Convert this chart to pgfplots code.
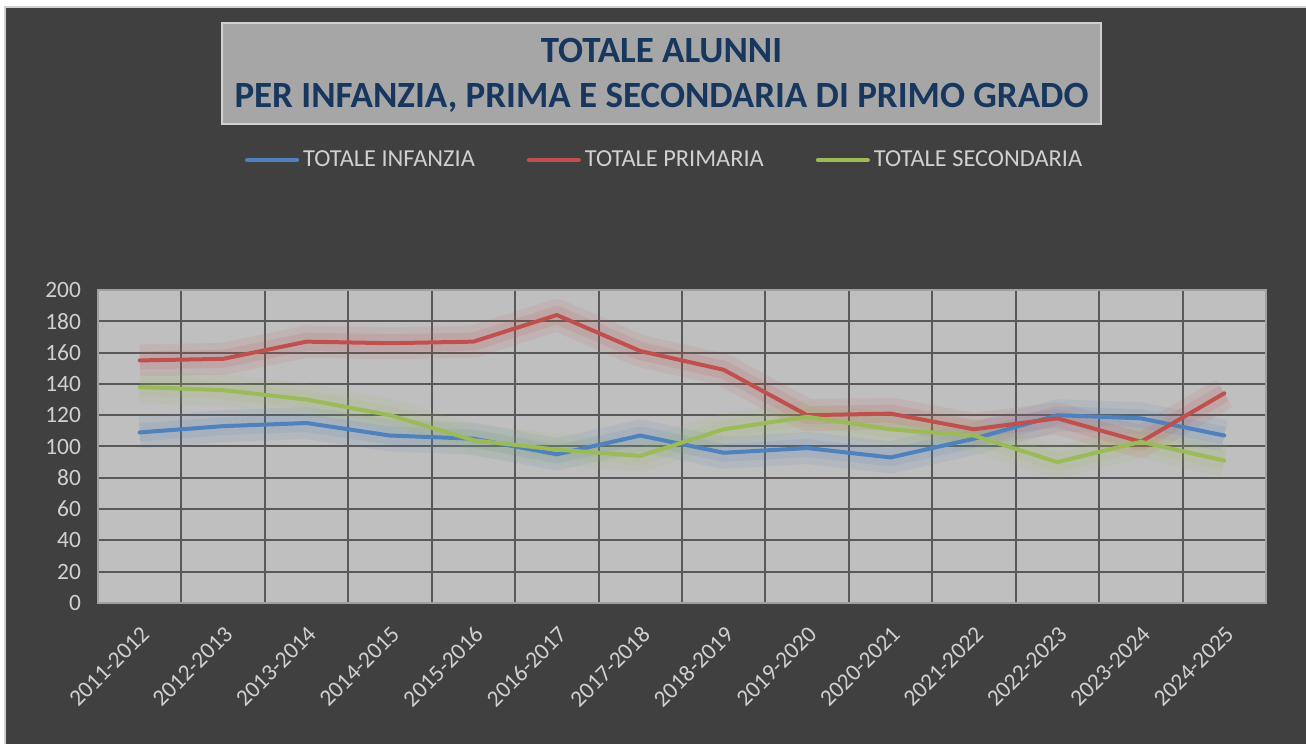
\documentclass[border=0pt]{standalone}
\usepackage{fontspec}
\setmainfont{Carlito}
\usepackage{pgfplots}
\usepackage{pgfplotstable}
\pgfplotsset{compat=1.18}

\definecolor{chartbg}{HTML}{404040}
\definecolor{plotbg}{HTML}{BFBFBF}
\definecolor{gridc}{HTML}{595959}
\definecolor{plotborder}{HTML}{A0A0A0}
\definecolor{titlebox}{HTML}{A6A6A6}
\definecolor{titletext}{HTML}{17375E}
\definecolor{labelc}{HTML}{D0D0D0}
\definecolor{cinf}{HTML}{4F81BD}
\definecolor{cpri}{HTML}{C0504D}
\definecolor{csec}{HTML}{9BBB59}

% alunni per anno scolastico
\pgfplotstableread{
x inf pri sec
0  109 155 138
1  113 156 136
2  115 167 130
3  107 166 120
4  105 167 104
5  95  184 98
6  107 161 94
7  96  149 111
8  99  120 119
9  93  121 111
10 105 111 107
11 120 118 90
12 118 103 103
13 107 134 91
}\datatable

\begin{document}
\begin{tikzpicture}
\path[use as bounding box] (0,0) rectangle (653pt,372pt);
\fill[white] (0,0) rectangle (653pt,372pt);
\fill[chartbg] (2.5pt,0) rectangle (653pt,368.5pt);
\draw[line width=1pt, labelc] (2.5pt,0) -- (2.5pt,368.5pt) -- (653pt,368.5pt);

% riquadro titolo
\draw[fill=titlebox, draw=labelc, line width=0.8pt] (111pt,310pt) rectangle (550.5pt,360.5pt);
\node[anchor=base, text=titletext, font=\fontsize{18.5}{20}\selectfont\bfseries, inner sep=0pt]
  at (330.75pt,340.5pt) {TOTALE ALUNNI};
\node[anchor=base, text=titletext, font=\fontsize{18.5}{20}\selectfont\bfseries, inner sep=0pt]
  at (330.75pt,318pt) {PER INFANZIA, PRIMA E SECONDARIA DI PRIMO GRADO};

\begin{axis}[
    at={(49pt,70.5pt)}, anchor=south west,
    scale only axis, width=584pt, height=156.5pt,
    xmin=-0.5, xmax=13.5, ymin=0, ymax=200,
    ytick={0,20,...,200},
    xtick={0,...,13},
    xticklabels={2011-2012,2012-2013,2013-2014,2014-2015,2015-2016,2016-2017,2017-2018,2018-2019,2019-2020,2020-2021,2021-2022,2022-2023,2023-2024,2024-2025},
    minor xtick={-0.5,0.5,...,13.5},
    xminorgrids, ymajorgrids,
    major grid style={gridc, line width=1pt},
    minor grid style={gridc, line width=1pt},
    axis line style={plotborder, line width=1pt},
    axis background/.style={fill=plotbg},
    major tick length=0pt, minor tick length=0pt,
    ticklabel style={font=\fontsize{11.7}{13}\selectfont, text=labelc},
    /pgf/number format/assume math mode=true,
    yticklabel style={xshift=-5pt},
    xticklabel style={xshift=0pt, yshift=-6pt, rotate=45, anchor=north east},
    legend columns=3,
    legend style={at={(rel axis cs:0.486,1.415)}, anchor=center, draw=none, fill=none,
        font=\fontsize{12.2}{13}\selectfont, text=labelc,
        /tikz/every even column/.append style={column sep=24pt}},
    legend image code/.code={\draw[#1, line width=2pt, line cap=round] (0pt,0pt) -- (25pt,0pt);},
]
% alone morbido
\addplot[forget plot, cinf, opacity=0.10, line width=16pt, line join=round] table[x=x,y=inf]{\datatable};
\addplot[forget plot, cpri, opacity=0.10, line width=16pt, line join=round] table[x=x,y=pri]{\datatable};
\addplot[forget plot, csec, opacity=0.10, line width=16pt, line join=round] table[x=x,y=sec]{\datatable};
\addplot[forget plot, cinf, opacity=0.12, line width=9pt, line join=round] table[x=x,y=inf]{\datatable};
\addplot[forget plot, cpri, opacity=0.12, line width=9pt, line join=round] table[x=x,y=pri]{\datatable};
\addplot[forget plot, csec, opacity=0.12, line width=9pt, line join=round] table[x=x,y=sec]{\datatable};
% linee
\addplot[cinf, line width=2pt, line join=round, line cap=round] table[x=x,y=inf]{\datatable};
\addplot[cpri, line width=2pt, line join=round, line cap=round] table[x=x,y=pri]{\datatable};
\addplot[csec, line width=2pt, line join=round, line cap=round] table[x=x,y=sec]{\datatable};
\legend{TOTALE INFANZIA, TOTALE PRIMARIA, TOTALE SECONDARIA}
\end{axis}
\end{tikzpicture}
\end{document}
